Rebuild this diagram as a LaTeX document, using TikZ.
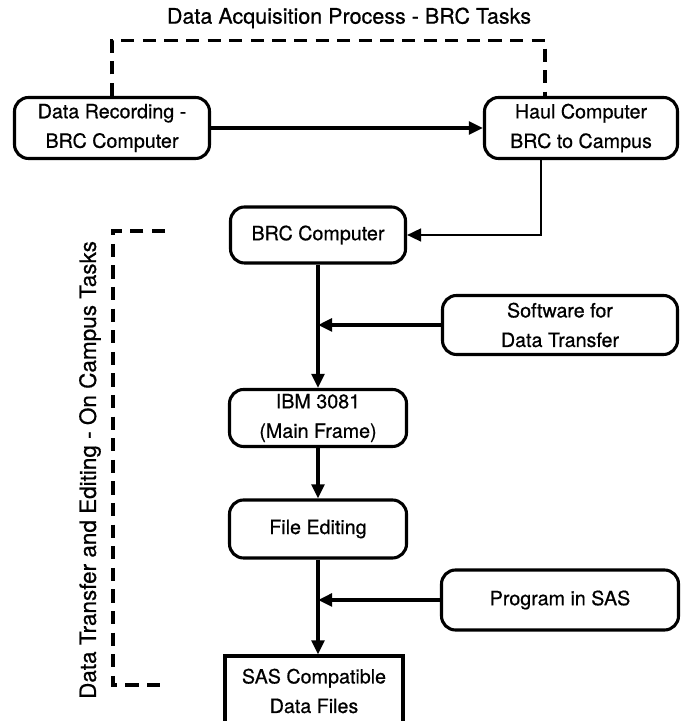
\documentclass[tikz,border=0pt]{standalone}
\usepackage{fontspec}
\setmainfont[FakeBold=0.6]{TeX Gyre Heros}
\usetikzlibrary{arrows.meta}

\tikzset{
  task/.style={draw, line width=2.2pt, rounded corners=0.35cm, align=center,
    font=\fontsize{14}{21}\selectfont, inner sep=0pt},
  flow/.style={line width=2.2pt, -{Triangle[length=0.35cm,width=0.32cm]}},
  dashline/.style={line width=2.6pt, dash pattern=on 0.33cm off 0.21cm},
}

\begin{document}
\begin{tikzpicture}
\clip (0,0) rectangle (17,18.025);
%\draw[step=1cm,gray,very thin] (0,0) grid (17,18);

\node[font=\fontsize{15.3}{17}\selectfont] (acq) at (8.725,17.575) {Data Acquisition Process - BRC Tasks};
\node[rotate=90, font=\fontsize{16}{17}\selectfont] (campus) at (2.25,6.275) {Data Transfer and Editing - On Campus Tasks};

\node[task, minimum width=4.875cm, minimum height=1.525cm] (rec) at (2.8,14.825) {Data Recording -\\BRC Computer};
\node[task, minimum width=4.825cm, minimum height=1.525cm] (haul) at (14.525,14.825) {Haul Computer\\BRC to Campus};
\node[task, minimum width=4.375cm, minimum height=1.4cm] (brc) at (7.95,12.15) {BRC Computer};
\node[task, minimum width=5.875cm, minimum height=1.475cm] (soft) at (14.0,9.9) {Software for\\Data Transfer};
\node[task, minimum width=4.425cm, minimum height=1.425cm] (ibm) at (7.95,7.575) {IBM 3081\\(Main Frame)};
\node[task, minimum width=4.425cm, minimum height=1.45cm] (edit) at (7.95,4.8) {File Editing};
\node[task, minimum width=5.925cm, minimum height=1.5cm] (sas) at (14.0,3.025) {Program in SAS};
\node[task, rounded corners=0pt, minimum width=4.45cm, minimum height=1.75cm] (files) at (7.85,0.75) {SAS Compatible\\Data Files};

% main flow
\draw[flow] (rec) -- (haul);
\draw[line width=1.5pt, -{Triangle[length=0.35cm,width=0.32cm]}] ([xshift=-1cm]haul.south) |- (brc);
\draw[flow] (brc) -- (ibm);
\draw[flow] (soft) -- (soft -| brc);
\draw[flow] (ibm) -- (edit);
\draw[flow] (edit) -- (edit |- files.north);
\draw[flow] (sas) -- (sas -| edit);

% task groups
\draw[dashline] (rec.north) -- ++(0,1.39) -| ([xshift=-0.9cm]haul.north);
\draw[dashline] (4.125,12.25) -- (2.825,12.25) -- (2.825,0.9) -- (4.125,0.9);

\end{tikzpicture}
\end{document}
